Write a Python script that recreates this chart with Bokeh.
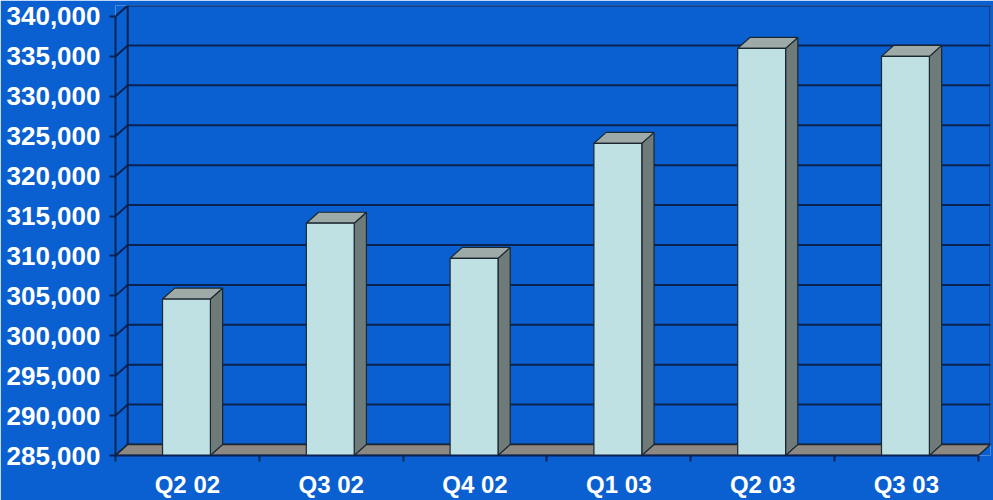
from bokeh.plotting import figure
from bokeh.models import Range1d, FixedTicker, NumeralTickFormatter
from bokeh.embed import file_html
from bokeh.resources import INLINE

# ---- data ----
quarters = ["Q2 02", "Q3 02", "Q4 02", "Q1 03", "Q2 03", "Q3 03"]
values = [304600, 314100, 309700, 324100, 336000, 335000]
y_ticks = [285000, 290000, 295000, 300000, 305000, 310000, 315000,
           320000, 325000, 330000, 335000, 340000]

# ---- style / geometry ----
BLUE = "#0a60d0"
GRID = "#0a2250"
FRONT = "#bfe1e4"
SIDE = "#6e7b79"
TOP = "#9eaaa7"
FLOOR = "#8d8882"
EDGE = "#1a2630"
FONT = "Liberation Sans"

n = len(quarters)
BASE = y_ticks[0]
TOPV = y_ticks[-1]
DX = 0.085   # 3-D depth in category units
DY = 1375    # 3-D depth in value units
BL, BR = 0.327, 0.66  # bar front face within category

p = figure(width=993, height=500, output_backend="svg", toolbar_location=None,
           x_range=Range1d(0, n + DX), y_range=Range1d(BASE, TOPV + DY),
           min_border_left=115, min_border_right=3, min_border_top=5,
           min_border_bottom=44,
           background_fill_color=BLUE, border_fill_color=BLUE,
           outline_line_color=None)
p.grid.visible = False

# back wall grid lines + side-wall diagonals
gx, gy = [], []
for v in y_ticks:
    gx.append([0, DX, n + DX])
    gy.append([v, v + DY, v + DY])
p.multi_line(gx, gy, line_color=GRID, line_width=2)
p.multi_line([[DX, DX], [n + DX, n + DX]],
             [[BASE + DY, TOPV + DY], [BASE + DY, TOPV + DY]],
             line_color=GRID, line_width=2)

# floor
p.patch([0, n, n + DX, DX], [BASE, BASE, BASE + DY, BASE + DY],
        fill_color=FLOOR, line_color=EDGE, line_width=1.5)

# bars
lefts = [i + BL for i in range(n)]
rights = [i + BR for i in range(n)]
side_x = [[r, r + DX, r + DX, r] for r in rights]
side_y = [[BASE, BASE + DY, v + DY, v] for v in values]
top_x = [[l, r, r + DX, l + DX] for l, r in zip(lefts, rights)]
top_y = [[v, v, v + DY, v + DY] for v in values]
p.patches(side_x, side_y, fill_color=SIDE, line_color=EDGE, line_width=1.2)
p.patches(top_x, top_y, fill_color=TOP, line_color=EDGE, line_width=1.2)
p.quad(left=lefts, right=rights, bottom=BASE, top=values,
       fill_color=FRONT, line_color=EDGE, line_width=1.2)

# y axis
ya = p.yaxis[0]
ya.ticker = FixedTicker(ticks=y_ticks, minor_ticks=[])
ya.formatter = NumeralTickFormatter(format="0,0")
ya.bounds = (BASE, TOPV)
ya.axis_line_color = GRID
ya.axis_line_width = 2
ya.major_tick_line_color = GRID
ya.major_tick_line_width = 2
ya.major_tick_out = 6
ya.major_tick_in = 0
ya.minor_tick_line_color = None
ya.major_label_standoff = 9
ya.major_label_text_color = "white"
ya.major_label_text_font = FONT
ya.major_label_text_font_style = "bold"
ya.major_label_text_font_size = "26px"

# x axis
xa = p.xaxis[0]
centers = [i + 0.5 for i in range(n)]
xa.ticker = FixedTicker(ticks=centers, minor_ticks=list(range(n + 1)))
xa.major_label_overrides = {c: q for c, q in zip(centers, quarters)}
xa.bounds = (0, n)
xa.axis_line_color = GRID
xa.axis_line_width = 2
xa.major_tick_line_color = None
xa.minor_tick_line_color = GRID
xa.minor_tick_line_width = 2
xa.minor_tick_out = 6
xa.minor_tick_in = 0
xa.major_label_standoff = 9
xa.major_label_text_color = "white"
xa.major_label_text_font = FONT
xa.major_label_text_font_style = "bold"
xa.major_label_text_font_size = "24px"

open("out.html", "w").write(file_html(p, INLINE))
